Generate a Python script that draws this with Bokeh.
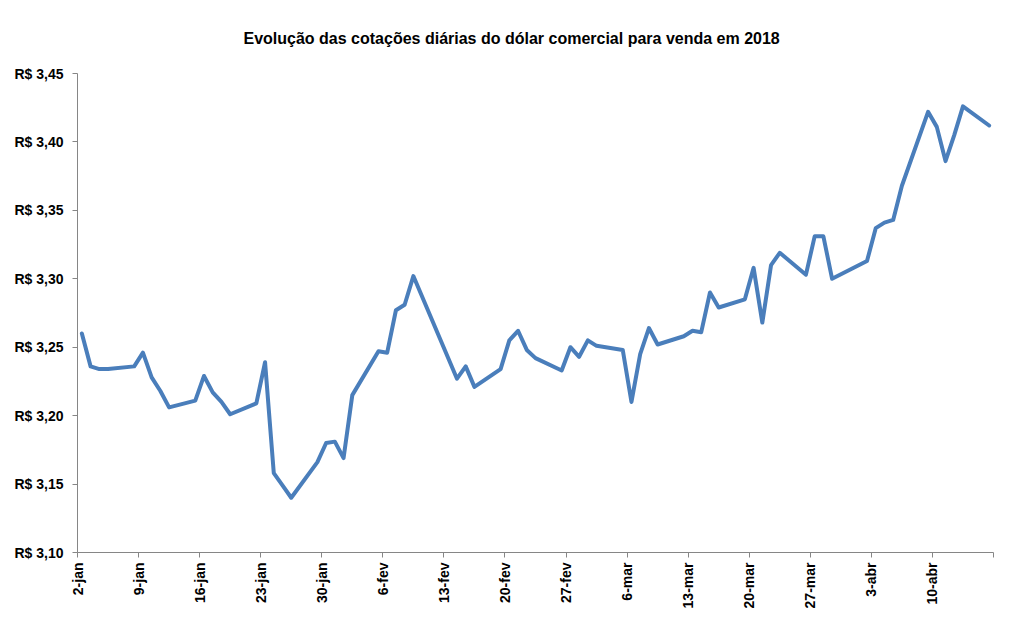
import pandas as pd
from math import pi
from bokeh.plotting import figure
from bokeh.models import FixedTicker, Range1d, ColumnDataSource
from bokeh.embed import file_html
from bokeh.resources import INLINE

dates = [
    "2018-01-02", "2018-01-03", "2018-01-04", "2018-01-05",
    "2018-01-08", "2018-01-09", "2018-01-10", "2018-01-11", "2018-01-12",
    "2018-01-15", "2018-01-16", "2018-01-17", "2018-01-18", "2018-01-19",
    "2018-01-22", "2018-01-23", "2018-01-24", "2018-01-25", "2018-01-26",
    "2018-01-29", "2018-01-30", "2018-01-31", "2018-02-01", "2018-02-02",
    "2018-02-05", "2018-02-06", "2018-02-07", "2018-02-08", "2018-02-09",
    "2018-02-14", "2018-02-15", "2018-02-16",
    "2018-02-19", "2018-02-20", "2018-02-21", "2018-02-22", "2018-02-23",
    "2018-02-26", "2018-02-27", "2018-02-28", "2018-03-01", "2018-03-02",
    "2018-03-05", "2018-03-06", "2018-03-07", "2018-03-08", "2018-03-09",
    "2018-03-12", "2018-03-13", "2018-03-14", "2018-03-15", "2018-03-16",
    "2018-03-19", "2018-03-20", "2018-03-21", "2018-03-22", "2018-03-23",
    "2018-03-26", "2018-03-27", "2018-03-28", "2018-03-29",
    "2018-04-02", "2018-04-03", "2018-04-04", "2018-04-05", "2018-04-06",
    "2018-04-09", "2018-04-10", "2018-04-11", "2018-04-12", "2018-04-13",
    "2018-04-16",
]
values = [
    3.260, 3.236, 3.234, 3.234,
    3.236, 3.246, 3.228, 3.218, 3.206,
    3.211, 3.229, 3.217, 3.210, 3.201,
    3.209, 3.239, 3.158, 3.149, 3.140,
    3.166, 3.180, 3.181, 3.169, 3.215,
    3.247, 3.246, 3.277, 3.281, 3.302,
    3.227, 3.236, 3.221,
    3.234, 3.255, 3.262, 3.248, 3.242,
    3.233, 3.250, 3.243, 3.255, 3.251,
    3.248, 3.210, 3.245, 3.264, 3.252,
    3.258, 3.262, 3.261, 3.290, 3.279,
    3.285, 3.308, 3.268, 3.310, 3.319,
    3.303, 3.331, 3.331, 3.300,
    3.313, 3.337, 3.341, 3.343, 3.368,
    3.422, 3.411, 3.386, 3.405, 3.426,
    3.412,
]
tick_labels = ["2-jan", "9-jan", "16-jan", "23-jan", "30-jan", "6-fev", "13-fev",
               "20-fev", "27-fev", "6-mar", "13-mar", "20-mar", "27-mar", "3-abr", "10-abr", ""]
y_ticks = [3.10, 3.15, 3.20, 3.25, 3.30, 3.35, 3.40, 3.45]
y_tick_labels = ["R$ 3,10", "R$ 3,15", "R$ 3,20", "R$ 3,25", "R$ 3,30", "R$ 3,35", "R$ 3,40", "R$ 3,45"]
title_text = "Evolução das cotações diárias do dólar comercial para venda em 2018"

start = pd.Timestamp("2018-01-02")
day_index = [(pd.Timestamp(d) - start).days for d in dates]
n_days = (pd.Timestamp("2018-04-16") - start).days + 1

source = ColumnDataSource(dict(x=day_index, y=values))

p = figure(width=1013, height=632, output_backend="svg", toolbar_location=None,
           x_range=Range1d(-0.5, n_days - 0.5), y_range=Range1d(3.10, 3.45),
           min_border_left=77, min_border_right=20, min_border_top=73, min_border_bottom=80,
           title=title_text)
p.outline_line_color = None
p.grid.visible = False
p.background_fill_color = "white"
p.border_fill_color = "white"

p.title.align = "left"
p.title.offset = 243 - 77
p.title.text_font = "Liberation Sans"
p.title.text_font_style = "bold"
p.title.text_font_size = "16px"
p.title.text_color = "black"
p.title.standoff = 53

p.line("x", "y", source=source, line_color="#4A7EBB", line_width=4, line_join="round", line_cap="round")

tick_pos = [-0.5 + 7 * k for k in range(len(tick_labels))]
p.xaxis.ticker = FixedTicker(ticks=tick_pos)
p.xaxis.major_label_overrides = {t: l for t, l in zip(tick_pos, tick_labels)}
p.xaxis.major_label_orientation = pi / 2
p.yaxis.ticker = FixedTicker(ticks=y_ticks)
p.yaxis.major_label_overrides = {t: l for t, l in zip(y_ticks, y_tick_labels)}

for ax in (p.xaxis, p.yaxis):
    ax.axis_line_color = "#868686"
    ax.major_tick_line_color = "#868686"
    ax.major_tick_out = 5
    ax.major_tick_in = 0
    ax.minor_tick_line_color = None
    ax.major_label_text_font = "Liberation Sans"
    ax.major_label_text_font_style = "bold"
    ax.major_label_text_font_size = "14px"
    ax.major_label_text_color = "black"
p.yaxis.major_label_standoff = 9
p.xaxis.major_label_standoff = 5

open("out.html", "w").write(file_html(p, INLINE))
